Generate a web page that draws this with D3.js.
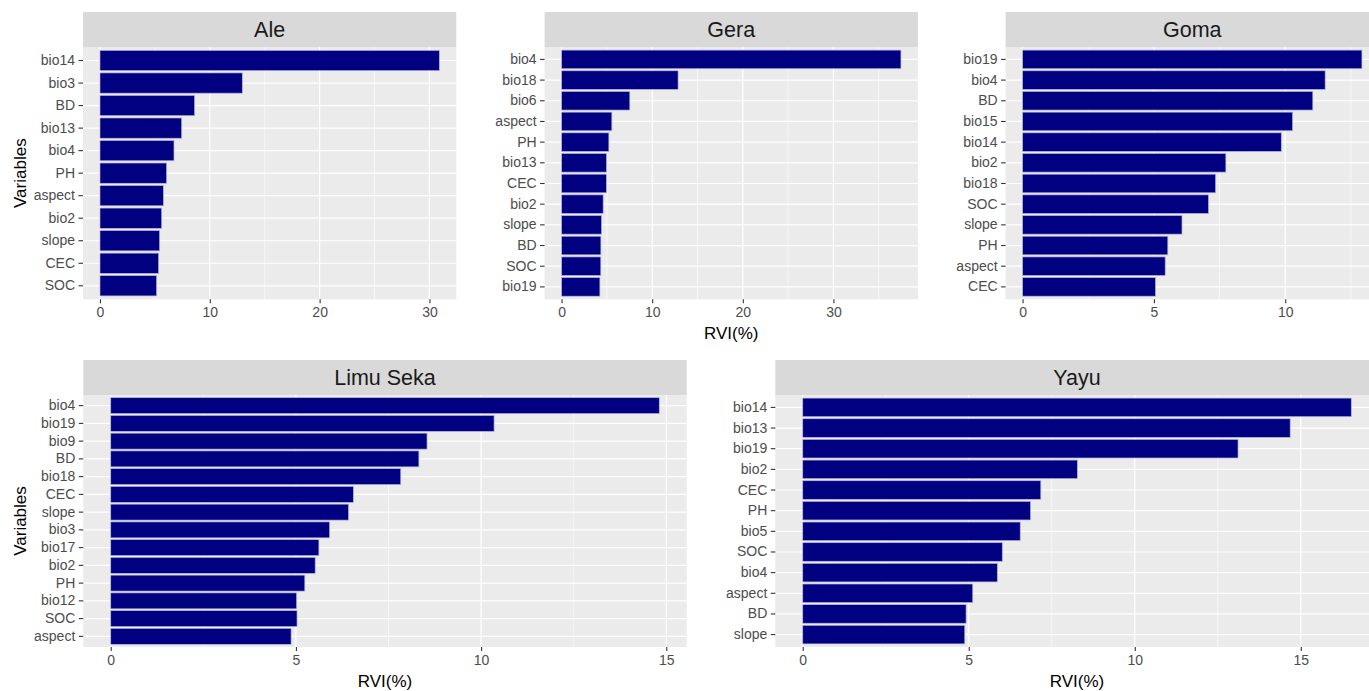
<!DOCTYPE html>
<html>
<head>
<meta charset="utf-8">
<script src="https://cdn.jsdelivr.net/npm/d3@7"></script>
<style>
  html, body { margin: 0; padding: 0; background: #ffffff; }
  svg { display: block; }
  text { font-family: "Liberation Sans", Arial, sans-serif; }
</style>
</head>
<body>
<svg id="chart" width="1369" height="691"></svg>
<script>
// Relative variable importance (RVI, %) per site, ordered from most to least important
const aleVars  = ["bio14", "bio3", "BD", "bio13", "bio4", "PH", "aspect", "bio2", "slope", "CEC", "SOC"];
const aleRVI   = [30.9, 12.96, 8.62, 7.44, 6.74, 6.07, 5.77, 5.62, 5.43, 5.34, 5.16];
const aleTicks = [0, 10, 20, 30];

const geraVars  = ["bio4", "bio18", "bio6", "aspect", "PH", "bio13", "CEC", "bio2", "slope", "BD", "SOC", "bio19"];
const geraRVI   = [37.45, 12.86, 7.53, 5.55, 5.22, 4.96, 4.95, 4.59, 4.41, 4.34, 4.33, 4.23];
const geraTicks = [0, 10, 20, 30];

const gomaVars  = ["bio19", "bio4", "BD", "bio15", "bio14", "bio2", "bio18", "SOC", "slope", "PH", "aspect", "CEC"];
const gomaRVI   = [12.92, 11.52, 11.05, 10.28, 9.85, 7.74, 7.35, 7.08, 6.07, 5.53, 5.43, 5.06];
const gomaTicks = [0, 5, 10];

const limuVars  = ["bio4", "bio19", "bio9", "BD", "bio18", "CEC", "slope", "bio3", "bio17", "bio2", "PH", "bio12", "SOC", "aspect"];
const limuRVI   = [14.81, 10.35, 8.54, 8.32, 7.83, 6.55, 6.42, 5.91, 5.62, 5.52, 5.24, 5.02, 5.03, 4.87];
const limuTicks = [0, 5, 10, 15];

const yayuVars  = ["bio14", "bio13", "bio19", "bio2", "CEC", "PH", "bio5", "SOC", "bio4", "aspect", "BD", "slope"];
const yayuRVI   = [16.52, 14.68, 13.11, 8.27, 7.17, 6.86, 6.55, 6.01, 5.86, 5.12, 4.92, 4.88];
const yayuTicks = [0, 5, 10, 15];

const siteNames = ["Ale", "Gera", "Goma", "Limu Seka", "Yayu"];
const yTitle = "Variables";
const xTitle = "RVI(%)";

// Facet layout: two rows of panels
const topRow = { stripTop: 12, top: 47, bottom: 299.3, width: 373.3 };
const botRow = { stripTop: 360, top: 395, bottom: 647, width: 603.4 };

const panels = [
  { name: siteNames[0], vars: aleVars,  vals: aleRVI,  ticks: aleTicks,  row: topRow, left: 83.0,   yLab: true,  xLab: false },
  { name: siteNames[1], vars: geraVars, vals: geraRVI, ticks: geraTicks, row: topRow, left: 544.6,  yLab: false, xLab: true  },
  { name: siteNames[2], vars: gomaVars, vals: gomaRVI, ticks: gomaTicks, row: topRow, left: 1005.6, yLab: false, xLab: false },
  { name: siteNames[3], vars: limuVars, vals: limuRVI, ticks: limuTicks, row: botRow, left: 83.3,   yLab: true,  xLab: true  },
  { name: siteNames[4], vars: yayuVars, vals: yayuRVI, ticks: yayuTicks, row: botRow, left: 775.3,  yLab: false, xLab: true  }
];

const svg = d3.select("#chart");

panels.forEach(p => {
  const r = p.row;
  const x0 = p.left, x1 = p.left + r.width;
  const maxV = d3.max(p.vals);
  const pad = maxV * 0.05;

  const x = d3.scaleLinear().domain([-pad, maxV + pad]).range([x0, x1]);
  const y = d3.scaleBand().domain(p.vars).range([r.top, r.bottom])
    .paddingInner(0.1).paddingOuter(0.15);

  const g = svg.append("g");

  // strip
  g.append("rect")
    .attr("x", x0).attr("y", r.stripTop)
    .attr("width", r.width).attr("height", r.top - r.stripTop)
    .attr("fill", "#d9d9d9");
  g.append("text")
    .attr("x", (x0 + x1) / 2).attr("y", (r.stripTop + r.top) / 2)
    .attr("text-anchor", "middle").attr("dominant-baseline", "central")
    .attr("font-size", 21.5).attr("fill", "#1a1a1a")
    .text(p.name);

  // panel background
  g.append("rect")
    .attr("x", x0).attr("y", r.top)
    .attr("width", r.width).attr("height", r.bottom - r.top)
    .attr("fill", "#ebebeb");

  // minor vertical grid at midpoints between breaks
  const step = p.ticks[1] - p.ticks[0];
  const minor = d3.range(p.ticks[0] + step / 2, maxV + pad, step);
  g.selectAll(".minor").data(minor).enter().append("line")
    .attr("x1", d => x(d)).attr("x2", d => x(d))
    .attr("y1", r.top).attr("y2", r.bottom)
    .attr("stroke", "#ffffff").attr("stroke-width", 0.6);

  // major grid
  g.selectAll(".vmajor").data(p.ticks).enter().append("line")
    .attr("x1", d => x(d)).attr("x2", d => x(d))
    .attr("y1", r.top).attr("y2", r.bottom)
    .attr("stroke", "#ffffff").attr("stroke-width", 1.2);
  g.selectAll(".hmajor").data(p.vars).enter().append("line")
    .attr("x1", x0).attr("x2", x1)
    .attr("y1", d => y(d) + y.bandwidth() / 2).attr("y2", d => y(d) + y.bandwidth() / 2)
    .attr("stroke", "#ffffff").attr("stroke-width", 1.2);

  // bars
  g.selectAll(".bar").data(p.vars.map((v, i) => ({ v, val: p.vals[i] }))).enter().append("rect")
    .attr("x", x(0)).attr("y", d => y(d.v))
    .attr("width", d => x(d.val) - x(0)).attr("height", y.bandwidth())
    .attr("fill", "#000080").attr("stroke", "#b4b4dc").attr("stroke-width", 0.7);

  // x axis
  const xAxis = d3.axisBottom(x).tickValues(p.ticks).tickSize(4).tickPadding(4).tickFormat(d3.format("d"));
  const ax = g.append("g").attr("transform", `translate(0,${r.bottom})`).call(xAxis);
  ax.select(".domain").remove();
  ax.selectAll(".tick line").attr("stroke", "#333333").attr("stroke-width", 1.1);
  ax.selectAll(".tick text").attr("fill", "#4d4d4d").attr("font-size", 14)
    .attr("font-family", "Liberation Sans, Arial, sans-serif");

  // y axis
  const yAxis = d3.axisLeft(y).tickSize(4.5).tickPadding(3.5);
  const ay = g.append("g").attr("transform", `translate(${x0},0)`).call(yAxis);
  ay.select(".domain").remove();
  ay.selectAll(".tick line").attr("stroke", "#333333").attr("stroke-width", 1.1);
  ay.selectAll(".tick text").attr("fill", "#4d4d4d").attr("font-size", 14)
    .attr("font-family", "Liberation Sans, Arial, sans-serif");

  // axis titles
  if (p.yLab) {
    g.append("text")
      .attr("transform", `translate(20,${(r.top + r.bottom) / 2}) rotate(-90)`)
      .attr("text-anchor", "middle").attr("dominant-baseline", "central")
      .attr("font-size", 17).attr("fill", "#000000")
      .text(yTitle);
  }
  if (p.xLab) {
    g.append("text")
      .attr("x", (x0 + x1) / 2).attr("y", r.bottom + 34)
      .attr("text-anchor", "middle").attr("dominant-baseline", "central")
      .attr("font-size", 17).attr("fill", "#000000")
      .text(xTitle);
  }
});
</script>
</body>
</html>
